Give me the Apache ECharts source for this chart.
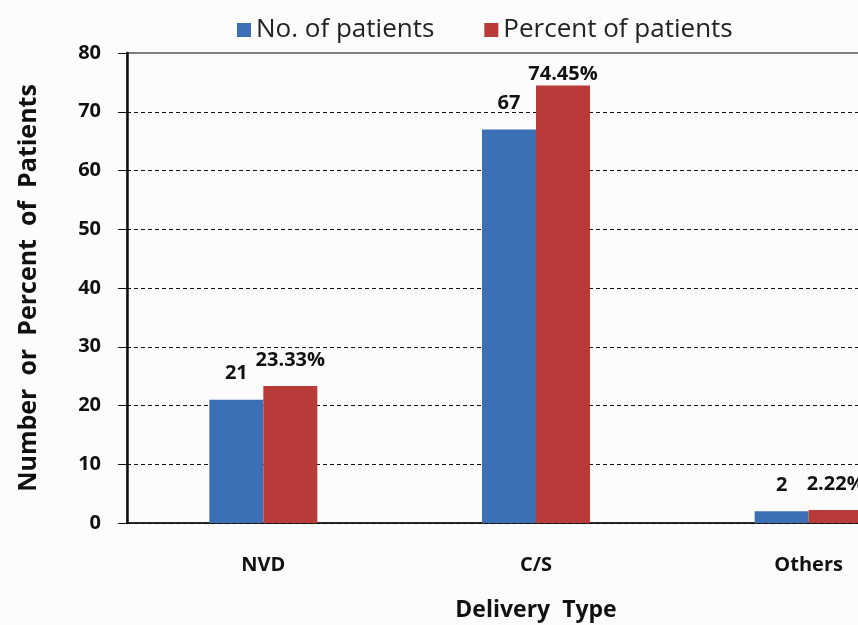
<!DOCTYPE html>
<html>
<head>
<meta charset="utf-8">
<script src="https://cdn.jsdelivr.net/npm/echarts@6/dist/echarts.min.js"></script>
<style>
  html, body { margin: 0; padding: 0; background: #fcfcfc; overflow: hidden; }
  /* the plot runs past the right edge of the window, so the last bar is cut off */
  #chart { width: 945px; height: 625px; }
</style>
</head>
<body>
<div id="chart"></div>
<script>
// Delivery type breakdown
const categories = ['NVD', 'C/S', 'Others'];
const patientCounts = [21, 67, 2];
const patientPercents = [23.33, 74.45, 2.22];
const seriesNames = ['No. of patients', 'Percent of patients'];

const FONT = '"Open Sans", "DejaVu Sans", sans-serif';
const BLUE = '#3b70b4';
const RED = '#b83b3a';

const chart = echarts.init(document.getElementById('chart'), null, { renderer: 'canvas' });

const labelBase = {
  show: true,
  position: 'top',
  distance: 16,
  fontFamily: FONT,
  fontSize: 20,
  fontWeight: 'bold',
  color: '#111'
};

// the tallest percentage label sits right on its bar
const percentData = patientPercents.map(v => v > 70 ? { value: v, label: { distance: 1 } } : v);

chart.setOption({
  backgroundColor: '#fcfcfc',
  animation: false,
  legend: {
    data: seriesNames,
    left: 232,
    top: 12,
    itemWidth: 14,
    itemHeight: 14,
    itemGap: 50,
    icon: 'rect',
    textStyle: { fontFamily: FONT, fontSize: 26, color: '#222' }
  },
  grid: {
    left: 127,
    top: 53,
    bottom: 102,
    right: 0,
    outerBoundsMode: 'none',
    show: true,
    borderColor: '#555',
    borderWidth: 1.5,
    backgroundColor: 'transparent'
  },
  xAxis: {
    type: 'category',
    data: categories,
    name: 'Delivery  Type',
    nameLocation: 'middle',
    nameGap: 76,
    nameTextStyle: { fontFamily: FONT, fontSize: 23, fontWeight: 'bold', color: '#111' },
    axisLine: { lineStyle: { color: '#111', width: 1.5 } },
    axisTick: { show: false },
    axisLabel: { fontFamily: FONT, fontSize: 20, fontWeight: 'bold', color: '#111', margin: 32 }
  },
  yAxis: {
    type: 'value',
    min: 0,
    max: 80,
    interval: 10,
    name: 'Number  or  Percent  of  Patients',
    nameLocation: 'middle',
    nameGap: 86,
    nameTextStyle: { fontFamily: FONT, fontSize: 25, fontWeight: 'bold', color: '#111' },
    axisLine: { show: true, lineStyle: { color: '#111', width: 2.5 } },
    axisTick: { show: true, length: 9, lineStyle: { color: '#111', width: 1 } },
    axisLabel: { fontFamily: FONT, fontSize: 20, fontWeight: 'bold', color: '#111', margin: 26 },
    splitLine: { showMaxLine: false, lineStyle: { color: '#111', type: [4, 3], width: 1 } }
  },
  series: [
    {
      name: seriesNames[0],
      type: 'bar',
      data: patientCounts,
      barWidth: 54,
      barGap: '0%',
      itemStyle: { color: BLUE },
      label: labelBase
    },
    {
      name: seriesNames[1],
      type: 'bar',
      data: percentData,
      barWidth: 54,
      barGap: '0%',
      itemStyle: { color: RED },
      label: Object.assign({}, labelBase, { formatter: p => p.value.toFixed(2) + '%' })
    }
  ]
});
</script>
</body>
</html>
